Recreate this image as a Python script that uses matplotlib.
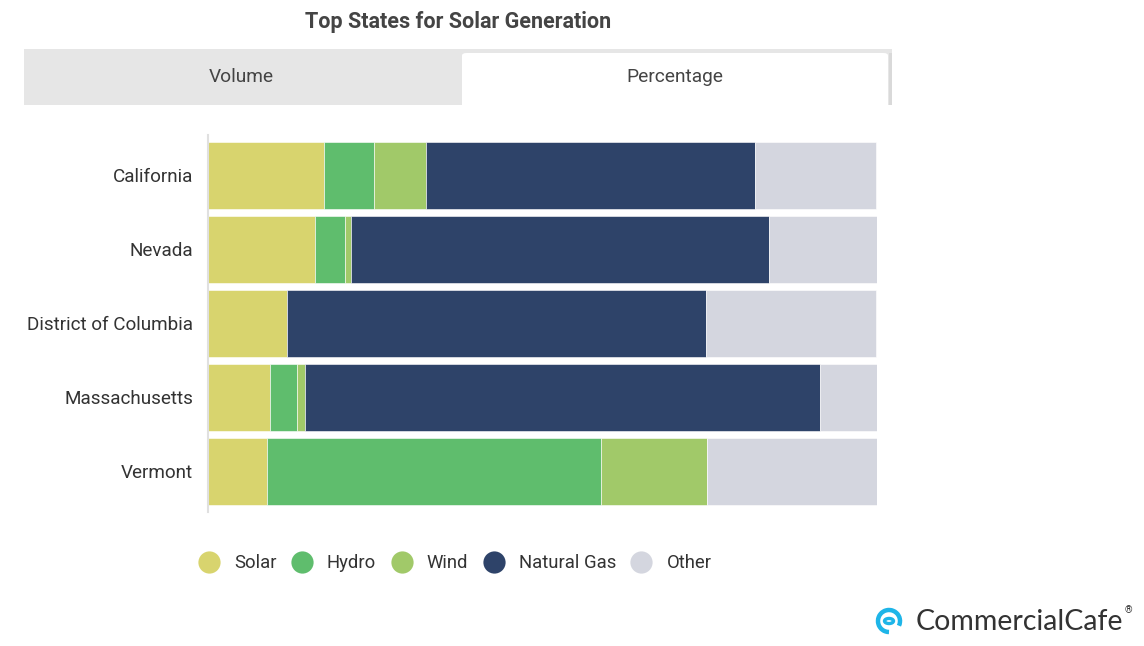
import matplotlib.pyplot as plt
from matplotlib.patches import Rectangle, FancyBboxPatch, Arc, Circle
from matplotlib.lines import Line2D
import numpy as np

plt.rcParams['font.family'] = ['Roboto', 'DejaVu Sans']

# data (percent share of generation)
states = ['California', 'Nevada', 'District of Columbia', 'Massachusetts', 'Vermont']
sources = ['Solar', 'Hydro', 'Wind', 'Natural Gas', 'Other']
solar = [17.4, 16.1, 11.9, 9.3, 8.9]
hydro = [7.5, 4.5, 0.0, 4.1, 49.9]
wind = [7.8, 0.9, 0.0, 1.1, 15.8]
natural_gas = [49.1, 62.4, 62.5, 77.0, 0.0]
other = [18.1, 16.3, 25.5, 8.5, 25.5]
colors = ['#D8D46E', '#5FBD6D', '#A1C969', '#2E4369', '#D4D6DF']

W, H = 1144, 646
fig = plt.figure(figsize=(W / 100, H / 100), dpi=100)

# title and tab strip
fig.text(458 / W, 1 - 22 / H, 'Top States for Solar Generation', ha='center', va='center',
         fontsize=15.5, fontweight='bold', color='#444444')
fig.patches.append(Rectangle((24 / W, 1 - 105 / H), 868 / W, 56 / H, transform=fig.transFigure,
                             facecolor='#E6E6E6', edgecolor='none', zorder=0))
fig.patches.append(Rectangle((889 / W, 1 - 105 / H), 3 / W, 52 / H, transform=fig.transFigure,
                             facecolor='#D9D9D9', edgecolor='none', zorder=0))
fig.patches.append(FancyBboxPatch((462 / W, 1 - 105 / H), 426 / W, 52 / H, transform=fig.transFigure,
                                  boxstyle='round,pad=0,rounding_size=0.004',
                                  facecolor='white', edgecolor='none', zorder=1))
fig.patches.append(Rectangle((462 / W, 1 - 105 / H), 426 / W, 20 / H, transform=fig.transFigure,
                             facecolor='white', edgecolor='none', zorder=1))
fig.text(241 / W, 1 - 77 / H, 'Volume', ha='center', va='center', fontsize=13.8, color='#444444')
fig.text(675 / W, 1 - 77 / H, 'Percentage', ha='center', va='center', fontsize=13.8, color='#444444')

# bars
ax = fig.add_axes([207.5 / W, 1 - 508.5 / H, 669.5 / W, 370 / H])
series = [solar, hydro, wind, natural_gas, other]
y = np.arange(len(states))
left = np.zeros(len(states))
for vals, c, name in zip(series, colors, sources):
    ax.barh(y, vals, left=left, height=0.905, color=c, edgecolor='white', linewidth=0.4, label=name)
    left += np.array(vals)

ax.set_xlim(0, 100)
ax.set_ylim(len(states) - 0.5, -0.5)
ax.set_yticks(y)
ax.set_yticklabels(states, fontsize=13.6, color='#333333')
ax.tick_params(axis='y', length=0, pad=10.5)
ax.set_xticks([])
for s in ['top', 'right', 'bottom']:
    ax.spines[s].set_visible(False)
ax.spines['left'].set_color('#E0E0E0')
ax.spines['left'].set_linewidth(1.5)
ax.spines['left'].set_bounds(-0.55, 4.55)

# legend
handles = [Line2D([], [], marker='o', linestyle='none', markersize=16, markerfacecolor=c,
                  markeredgecolor='none') for c in colors]
fig.legend(handles, sources, loc='center', bbox_to_anchor=(451 / W, 1 - 563 / H), ncol=5,
           frameon=False, fontsize=13.3, handletextpad=0.35, columnspacing=0.38,
           labelcolor='#333333')

# logo
fig.patches.append(Arc((889 / W, 1 - 621 / H), 22 / W, 22 / H, theta1=-40, theta2=270,
                       transform=fig.transFigure, color='#1EB5E8', linewidth=3.2))
fig.patches.append(Circle((889 / W, 1 - 621 / H), 4.5 / W, transform=fig.transFigure,
                          facecolor='none', edgecolor='#1EB5E8', linewidth=2.4))
fig.text(916 / W, 1 - 622 / H, 'CommercialCafe', ha='left', va='center', fontsize=20.5,
         color='#333333', family=['Lato', 'DejaVu Sans'])
fig.text(1128 / W, 1 - 610 / H, '®', ha='center', va='center', fontsize=7, color='#333333')

fig.savefig('out.png', dpi=100, facecolor='white')
